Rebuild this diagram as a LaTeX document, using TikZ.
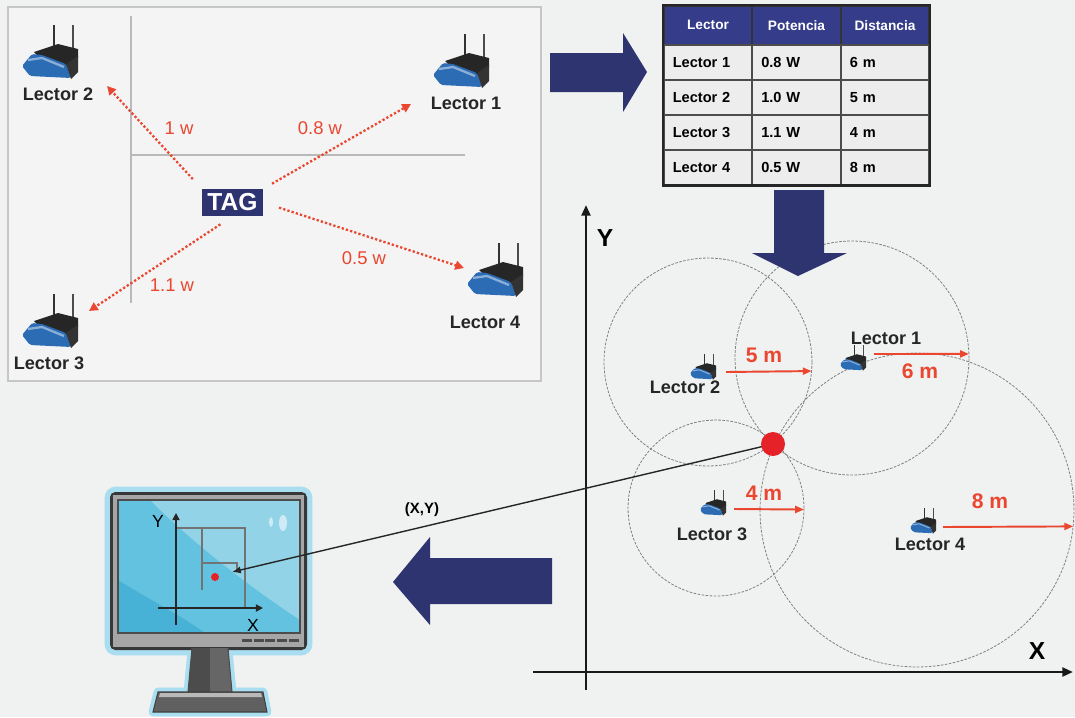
\documentclass[tikz,border=0pt]{standalone}
\usepackage{fontspec}
\setmainfont{Liberation Sans}
\usetikzlibrary{arrows.meta,positioning,calc}
\definecolor{bgGray}{HTML}{F0F1F1}
\definecolor{panelGray}{HTML}{F4F4F4}
\definecolor{navy}{HTML}{2D3470}
\definecolor{hdrNavy}{HTML}{353C8A}
\definecolor{cellGray}{HTML}{EDEDED}
\definecolor{sigRed}{HTML}{EA4630}
\definecolor{dotRed}{HTML}{E52228}
\definecolor{routerBlue}{HTML}{2B6CB5}
\definecolor{scrLight}{HTML}{92D3E8}
\definecolor{scrMid}{HTML}{62C2DF}
\definecolor{scrDark}{HTML}{48B2D6}
\definecolor{glowBlue}{HTML}{A9DDF0}
\tikzset{
  router/.pic={
    \draw[line width=#1,black!80] (4,-2) -- (4,-27);
    \draw[line width=#1,black!70] (23,2) -- (23,-27);
    \fill[black!85] (-16,0) -- (8,-8) -- (28,-3) -- (28,6) -- (16,14) -- (-10,6) -- cycle;
    \fill[routerBlue,rounded corners=1pt] (-28,14) -- (-18,2) -- (-8,3) -- (16,12)
      -- (21,26) -- (-20,24) -- cycle;
    \draw[routerBlue!55!white,line width=#1] (-22,8) -- (-8,6) -- (14,15);
    \fill[black!80] (16,12) -- (28,4) -- (28,20) -- (21,27) -- cycle;
  },
  lbl/.style={font=\bfseries\fontsize{10.3}{12}\selectfont,text=black!85,inner sep=1pt},
  wlbl/.style={font=\fontsize{10.5}{12}\selectfont,text=sigRed,inner sep=1pt},
  mlbl/.style={font=\bfseries\fontsize{12}{14}\selectfont,text=sigRed,inner sep=1pt},
  axlbl/.style={font=\bfseries\fontsize{14}{16}\selectfont,text=black,inner sep=0pt},
  tagbox/.style={rectangle,fill=navy,text=white,
    font=\bfseries\fontsize{14}{16}\selectfont,
    minimum width=1.22cm,minimum height=0.54cm,inner sep=0pt},
  hdr/.style={rectangle,draw=black!80,line width=0.9pt,fill=hdrNavy,text=white,
    font=\bfseries\fontsize{7.8}{9}\selectfont,
    minimum width=1.77cm,minimum height=0.78cm,inner sep=0pt,anchor=north west},
  cell/.style={rectangle,draw=black!70,line width=0.9pt,fill=cellGray,
    font=\bfseries\fontsize{8.3}{10}\selectfont,
    text width=1.41cm,inner xsep=0.18cm,minimum height=0.7cm,
    align=left,anchor=north west},
  ring/.style={circle,draw=black!50,dash pattern=on 1.5pt off 0.8pt,
    line width=0.45pt,inner sep=0pt,outer sep=0pt},
  dotnode/.style={circle,fill=dotRed,minimum size=0.48cm,inner sep=0pt},
  sigarr/.style={-{Triangle[length=5pt,width=5pt]},sigRed,line width=1.3pt,
    dash pattern=on 1.3pt off 1.2pt},
  radarr/.style={-{Triangle[length=5pt,width=4pt]},sigRed,line width=1.1pt},
  locarr/.style={-{Latex[length=5pt,width=4pt]},black!85,line width=0.8pt},
  axis/.style={-{Triangle[length=6pt,width=5pt]},black!90,line width=1.4pt},
  scraxis/.style={-{Triangle[length=4pt,width=4pt]},black!85,line width=0.9pt},
  scrline/.style={black!55,line width=0.8pt},
  bigarr/.style={fill=navy},
}
\begin{document}
\begin{tikzpicture}[x=0.02cm,y=-0.02cm]
  \fill[bgGray] (0,0) rectangle (1075,717);
  \useasboundingbox (0,0) rectangle (1075,717);

  % --- signal panel ---
  \draw[gray!45,line width=0.8pt,fill=panelGray] (8,7) rectangle (541,381);
  \draw[gray!55,line width=1pt] (131,16) -- (131,303);
  \draw[gray!55,line width=1pt] (131,155) -- (465,155);

  \pic at (50,52) {router=1.3pt};
  \pic at (461,61) {router=1.3pt};
  \pic at (50,321) {router=1.3pt};
  \pic at (495,270) {router=1.3pt};
  \node[lbl] (pl2) at (58,94) {Lector 2};
  \node[lbl] (pl1) at (466,103) {Lector 1};
  \node[lbl] (pl3) at (49,363) {Lector 3};
  \node[lbl] (pl4) at (485,322) {Lector 4};

  \node[tagbox] (tag) at (232.5,202.5) {TAG};
  \coordinate (e1) at (411,104);
  \coordinate (e2) at (107,86);
  \coordinate (e3) at (89,311);
  \coordinate (e4) at (464,268);
  \draw[sigarr,shorten <=0.26cm] (tag.north west) -- (e2);
  \draw[sigarr,shorten <=0.2cm] (tag.north east) -- (e1);
  \draw[sigarr,shorten <=0.33cm] (tag.east) -- (e4);
  \draw[sigarr,shorten <=0.29cm] (tag.south) -- (e3);
  \node[wlbl] (w2) at (179,128) {1 w};
  \node[wlbl] (w1) at (320,128) {0.8 w};
  \node[wlbl] (w4) at (364,258) {0.5 w};
  \node[wlbl] (w3) at (172,285) {1.1 w};

  % --- table ---
  \foreach \h [count=\c] in {Lector,Potencia,Distancia}
    \node[hdr] (h\c) at ({663+88.5*(\c-1)},5) {\h};
  \foreach \a/\b/\d [count=\r] in {Lector 1/0.8 W/6 m,Lector 2/1.0 W/5 m,
      Lector 3/1.1 W/4 m,Lector 4/0.5 W/8 m} {
    \node[cell] (l\r) at (663,{44+35*(\r-1)}) {\a};
    \node[cell] (p\r) at (751.5,{44+35*(\r-1)}) {\b};
    \node[cell] (d\r) at (840,{44+35*(\r-1)}) {\d};
  }
  \draw[black!85,line width=1.6pt] (h1.north west) rectangle (d4.south east);

  % --- trilateration ---
  \node[ring,minimum size=4.68cm] (c1) at (852,358) {};
  \node[ring,minimum size=4.16cm] (c2) at (708,362) {};
  \node[ring,minimum size=3.52cm] (c3) at (716,508) {};
  \node[ring,minimum size=6.28cm] (c4) at (917,510) {};

  \draw[axis] (586,690) -- (586,205);
  \draw[axis] (533,672) -- (1073,672);
  \node[axlbl] (ylab) at (605,238) {Y};
  \node[axlbl] (xlab) at (1037,651) {X};

  \pic[scale=0.47] at (853,358) {router=0.6pt};
  \pic[scale=0.47] at (703,367) {router=0.6pt};
  \pic[scale=0.47] at (713,503) {router=0.6pt};
  \pic[scale=0.47] at (923,521) {router=0.6pt};
  \node[lbl] (q1) at (886,338) {Lector 1};
  \node[lbl] (q2) at (685,387) {Lector 2};
  \node[lbl] (q3) at (712,534) {Lector 3};
  \node[lbl] (q4) at (930,544) {Lector 4};

  \coordinate (s1) at (874,354);
  \coordinate (s2) at (726,372);
  \coordinate (s3) at (734,509);
  \coordinate (s4) at (943,527);
  \draw[radarr] (s1) -- (c1.2);
  \draw[radarr] (s2) -- (c2.-5);
  \draw[radarr] (s3) -- (c3.-1);
  \draw[radarr] (s4) -- (c4.-6);
  \node[mlbl] (m1) at (920,371) {6 m};
  \node[mlbl] (m2) at (764,355) {5 m};
  \node[mlbl] (m3) at (764,493) {4 m};
  \node[mlbl] (m4) at (990,501) {8 m};

  % --- monitor ---
  \draw[glowBlue,line width=5pt,rounded corners=4pt] (109,491) rectangle (308,651);
  \draw[glowBlue,line width=5pt,line join=round] (192,650) -- (188,692) -- (158,692)
    -- (153,712) -- (267,712) -- (263,692) -- (232,692) -- (228,650);
  \fill[black!78,rounded corners=3pt] (110,492) rectangle (307,650);
  \fill[gray!70] (113,495) rectangle (304,647);
  \fill[scrMid] (118,500) rectangle (300,633);
  \fill[scrLight] (150,500) -- (300,500) -- (300,620)
    .. controls (240,580) and (190,540) .. (150,500) -- cycle;
  \fill[scrDark] (118,580) .. controls (150,600) and (180,615) .. (205,633)
    -- (118,633) -- cycle;
  \draw[black!70,line width=0.6pt] (118,500) rectangle (300,633);
  \foreach \k in {0,...,4}
    \fill[black!70] ({242+11.7*\k},639) rectangle ++(10,3);
  \fill[white!55!scrLight] (271,522) ellipse (2 and 5);
  \fill[white!55!scrLight] (283,523) ellipse (4 and 8);
  \fill[gray!60!black] (192,648) -- (210,648) -- (210,692) -- (188,692) -- cycle;
  \fill[gray!80!black] (210,648) -- (228,648) -- (232,692) -- (210,692) -- cycle;
  \draw[black!70,line width=0.6pt] (192,648) -- (188,692) (228,648) -- (232,692);
  \fill[gray!75!black,draw=black!75,line width=0.6pt]
    (158,692) -- (263,692) -- (267,712) -- (153,712) -- cycle;
  \fill[gray!55] (160,693) -- (261,693) -- (262,697) -- (159,697) -- cycle;

  \draw[scrline] (177,528) -- (245,528) -- (245,608);
  \draw[scrline] (202,528) -- (202,590);
  \draw[scrline] (202,563) -- (237,563) -- (237,572);
  \draw[scraxis] (176,625) -- (176,513);
  \draw[scraxis] (158,608) -- (263,608);
  \node[font=\fontsize{10}{12}\selectfont,inner sep=0pt] (sy) at (158,521) {Y};
  \node[font=\fontsize{10}{12}\selectfont,inner sep=0pt] (sx) at (253,625) {X};
  \fill[dotRed] (215,577) circle (4);

  % --- big arrows ---
  \fill[bigarr] (550,53) -- (623,53) -- (623,33) -- (647,72) -- (623,112)
    -- (623,92) -- (550,92) -- cycle;
  \fill[bigarr] (774,190) -- (824,190) -- (824,253) -- (847,253) -- (798,276)
    -- (752,253) -- (774,253) -- cycle;
  \fill[bigarr] (552,558) -- (430,558) -- (430,537) -- (393,582) -- (430,625)
    -- (430,604) -- (552,604) -- cycle;

  % --- position sent to screen ---
  \coordinate (fix) at (773,444);
  \coordinate (scr) at (232,572);
  \draw[locarr] (fix) -- (scr);
  \node[dotnode] (pos) at (fix) {};
  \node[font=\bfseries\fontsize{8.5}{10}\selectfont] (xy) at (422,510) {(X,Y)};
\end{tikzpicture}
\end{document}
